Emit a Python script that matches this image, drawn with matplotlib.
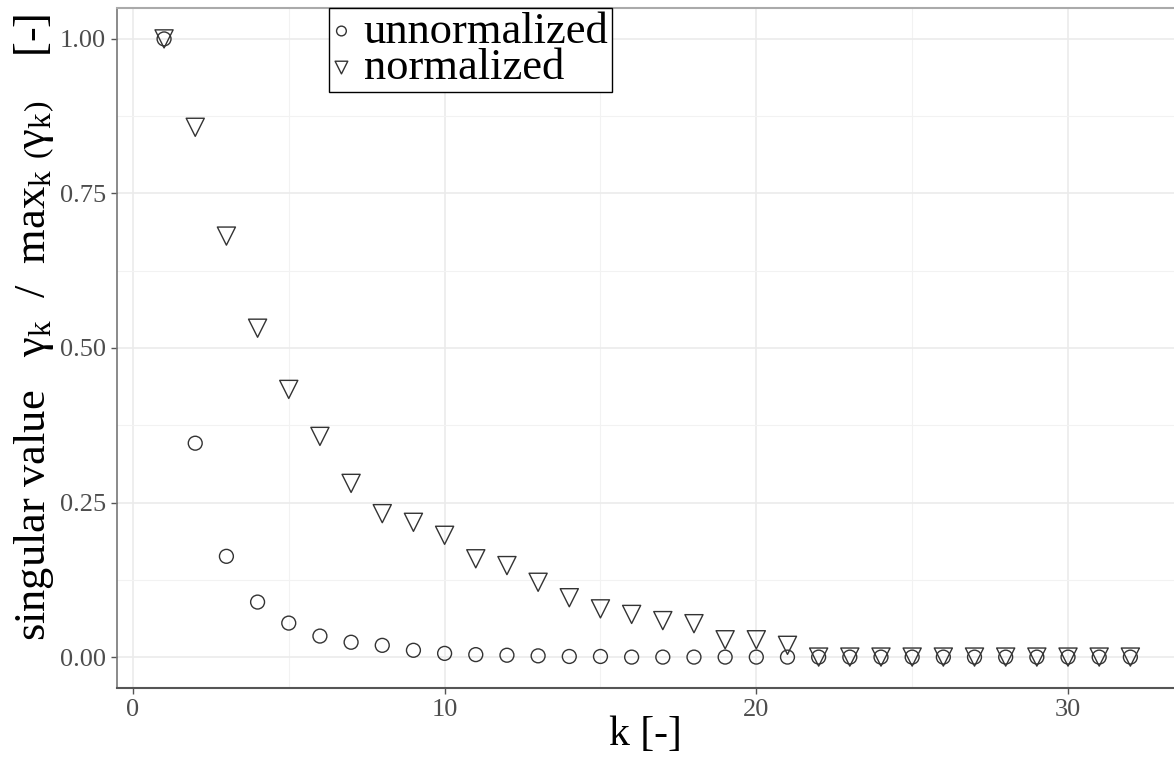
import numpy as np
import matplotlib
matplotlib.use('Agg')
import matplotlib.pyplot as plt
from matplotlib.ticker import MultipleLocator

plt.rcParams['font.family'] = ['Liberation Serif', 'DejaVu Serif']
plt.rcParams['mathtext.fontset'] = 'custom'
plt.rcParams['mathtext.rm'] = 'Liberation Serif'
plt.rcParams['mathtext.it'] = 'Liberation Serif:italic'

k = np.arange(1, 33)

unnormalized = [1.0, 0.346, 0.163, 0.089, 0.055, 0.034, 0.024, 0.019, 0.011, 0.006,
                0.004, 0.003, 0.002, 0.001, 0.001, 0.0, 0.0, 0.0, 0.0, 0.0,
                0.0, 0.0, 0.0, 0.0, 0.0, 0.0, 0.0, 0.0, 0.0, 0.0, 0.0, 0.0]

normalized = [1.0, 0.857, 0.681, 0.532, 0.433, 0.357, 0.281, 0.232, 0.218, 0.197,
              0.159, 0.148, 0.121, 0.096, 0.078, 0.069, 0.059, 0.054, 0.028, 0.028,
              0.019, 0.0, 0.0, 0.0, 0.0, 0.0, 0.0, 0.0, 0.0, 0.0, 0.0, 0.0]

fig = plt.figure(figsize=(11.74, 7.6), dpi=100)
ax = fig.add_axes([117 / 1174, 72 / 760, 1 - 117 / 1174, 680 / 760])

edge = '#333333'
ax.scatter(k, unnormalized, s=100, marker='o', facecolors='none',
           edgecolors=edge, linewidths=1.0, label='unnormalized', zorder=3)
ax.scatter(k, normalized, s=170, marker='v', facecolors='none',
           edgecolors=edge, linewidths=1.0, label='normalized', zorder=3)

ax.set_xlim(-0.51, 33.4)
ax.set_ylim(-0.05, 1.05)
ax.xaxis.set_major_locator(MultipleLocator(10))
ax.xaxis.set_minor_locator(MultipleLocator(5))
ax.yaxis.set_major_locator(MultipleLocator(0.25))
ax.yaxis.set_minor_locator(MultipleLocator(0.125))
ax.yaxis.set_major_formatter(plt.FormatStrFormatter('%.2f'))

ax.grid(which='major', color='#ebebeb', linewidth=1.2, zorder=0)
ax.grid(which='minor', color='#f2f2f2', linewidth=0.8, zorder=0)
ax.set_axisbelow(True)

ax.tick_params(which='major', length=4, width=1, color='#555555',
               labelsize=19, labelcolor='#4d4d4d', pad=4)
ax.tick_params(which='minor', length=0)

ax.spines['right'].set_visible(False)
ax.spines['top'].set_color('#aaaaaa')
ax.spines['top'].set_linewidth(1.5)
ax.spines['left'].set_color('#777777')
ax.spines['left'].set_linewidth(1.2)
ax.spines['bottom'].set_color('#555555')
ax.spines['bottom'].set_linewidth(1.5)

ax.set_xlabel('k [-]', fontsize=30, labelpad=-4)
ax.set_ylabel(r'singular value   $\mathrm{γ}_{\mathrm{k}}$  /  max$_{\mathrm{k}}$ '
              r'$\left(\mathrm{γ}_{\mathrm{k}}\right)$    [-]',
              fontsize=32)
ax.yaxis.set_label_coords(-0.058, 0.531)

leg = ax.legend(loc='upper left', bbox_to_anchor=(212 / 1057, 1.0),
                borderaxespad=0, fontsize=32, frameon=True, fancybox=False,
                handlelength=0.4, handletextpad=0.3, labelspacing=-0.08,
                borderpad=0.08, markerscale=0.7)
leg.get_frame().set_edgecolor('black')
leg.get_frame().set_linewidth(1.0)
leg.get_frame().set_alpha(1)

fig.savefig('out.png', dpi=100)
